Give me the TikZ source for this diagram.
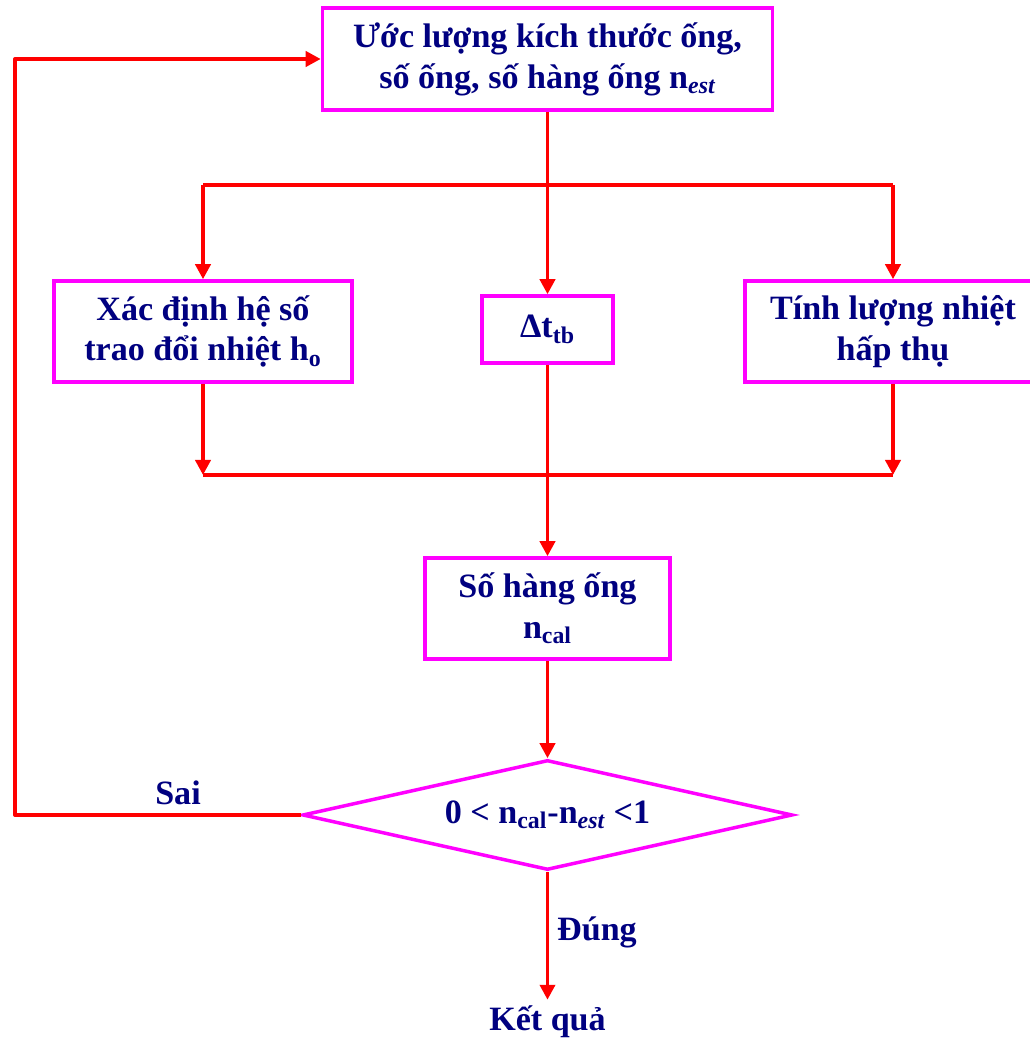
\documentclass[tikz,border=0pt]{standalone}
\usepackage{fontspec}
\setmainfont{Liberation Serif}
\usepackage{tikz}
\usetikzlibrary{positioning, arrows.meta, calc, shapes.geometric}
\definecolor{rahmenmagenta}{HTML}{FF00FF}
\definecolor{pfeilrot}{HTML}{FF0000}
\definecolor{schriftblau}{HTML}{000080}

\begin{document}
\begin{tikzpicture}[>={Triangle[length=3mm, width=3mm]},
    font=\bfseries\fontsize{19.4}{23.2}\selectfont,
    kasten/.style={draw=rahmenmagenta, line width=2pt, fill=white, text=schriftblau, align=center, inner sep=0pt},
    pfeil/.style={->, draw=pfeilrot, line width=2.2pt, line join=round},
    linie/.style={draw=pfeilrot, line width=2.2pt, line join=round},
    beschriftung/.style={text=schriftblau}]

    \useasboundingbox (0, 0) rectangle (20.6, 20.8);

    % Kästen
    \node[kasten, minimum width=9cm, minimum height=2.04cm] (schaetzung) at (10.95, 19.62)
        {Ước lượng kích thước ống,\\ số ống, số hàng ống n\textsubscript{\itshape est}};
    \node[kasten, minimum width=5.96cm, minimum height=2.02cm] (koeffizient) at (4.06, 14.17)
        {Xác định hệ số\\ trao đổi nhiệt h\textsubscript{o}};
    \node[kasten, minimum width=2.62cm, minimum height=1.34cm] (delta) at (10.95, 14.21)
        {Δt\textsubscript{tb}};
    \node[kasten, minimum width=5.92cm, minimum height=2.02cm] (waerme) at (17.86, 14.17)
        {Tính lượng nhiệt\\ hấp thụ};
    \node[kasten, minimum width=4.9cm, minimum height=2.02cm] (anzahl) at (10.95, 8.63)
        {Số hàng ống\\ n\textsubscript{cal}};

    % Entscheidung
    \node[kasten, diamond, aspect=4.45, minimum width=9.8cm, minimum height=2.2cm] (pruefung) at (10.95, 4.5)
        {0 < n\textsubscript{cal}-n\textsubscript{\itshape est} <1};

    % Ergebnis und Beschriftungen
    \node[beschriftung] (ergebnis) at (10.95, 0.36) {Kết quả};
    \node[beschriftung] (ja) at (11.94, 2.16) {Đúng};
    \node[beschriftung] (nein) at (3.56, 4.94) {Sai};

    % Hilfspunkte für Verteiler und Sammler
    \coordinate (verteiler) at (0, 17.1);
    \coordinate (sammler) at (0, 11.3);
    \coordinate (rueck) at (0.3, 0);

    % Verteilung auf die drei Zweige
    \draw[pfeil] (schaetzung.south) -- (delta.north);
    \draw[linie] (koeffizient.north |- verteiler) -- (waerme.north |- verteiler);
    \draw[pfeil] (koeffizient.north |- verteiler) -- (koeffizient.north);
    \draw[pfeil] (waerme.north |- verteiler) -- (waerme.north);

    % Zusammenführung
    \draw[pfeil] (koeffizient.south) -- (koeffizient.south |- sammler);
    \draw[pfeil] (waerme.south) -- (waerme.south |- sammler);
    \draw[linie] (koeffizient.south |- sammler) -- (waerme.south |- sammler);
    \draw[pfeil] (delta.south) -- (anzahl.north);
    \draw[pfeil] (anzahl.south) -- (pruefung.north);

    % Rückführung und Ausgang
    \draw[pfeil] (pruefung.west) -- (pruefung.west -| rueck) |- (schaetzung.west);
    \draw[pfeil] (pruefung.south) -- (ergebnis.north);

\end{tikzpicture}
\end{document}
